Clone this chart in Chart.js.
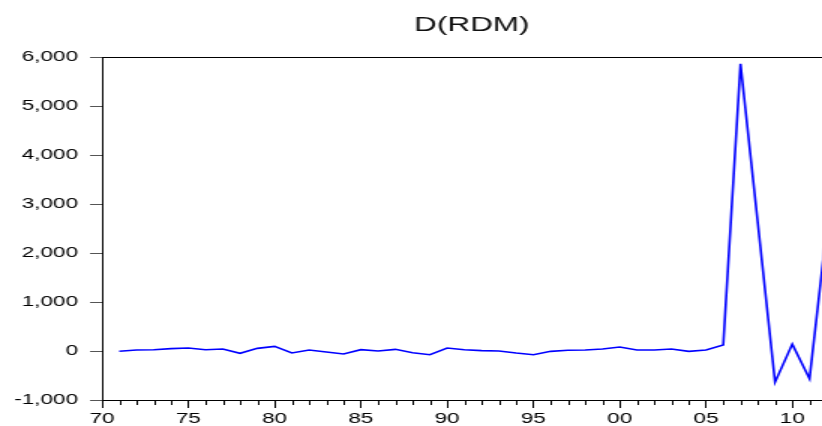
<!DOCTYPE html>
<html>
<head>
<meta charset="utf-8">
<title>D(RDM)</title>
<script src="https://cdn.jsdelivr.net/npm/chart.js@4/dist/chart.umd.min.js"></script>
<style>
  html, body { margin: 0; padding: 0; background: #fff; width: 822px; height: 426px; overflow: hidden; }
  /* the plot is drawn narrow and widened horizontally, giving the wide lettering */
  #wrap { position: absolute; left: 0; top: 0; width: 552px; height: 426px;
          transform: scaleX(1.5); transform-origin: 0 0; }
</style>
</head>
<body>
<div id="wrap"><canvas id="chart"></canvas></div>
<script>
// first difference of RDM, annual, 1971-2012
const years = [1971, 1972, 1973, 1974, 1975, 1976, 1977, 1978, 1979, 1980,
               1981, 1982, 1983, 1984, 1985, 1986, 1987, 1988, 1989, 1990,
               1991, 1992, 1993, 1994, 1995, 1996, 1997, 1998, 1999, 2000,
               2001, 2002, 2003, 2004, 2005, 2006, 2007, 2008, 2009, 2010,
               2011, 2012];
const dRdm = [-5, 20, 27, 48, 61, 27, 41, -48, 54, 95,
              -41, 20, -20, -61, 27, 0, 34, -34, -75, 61,
              27, 7, 0, -41, -75, -7, 14, 20, 41, 82,
              20, 20, 41, -7, 20, 125, 5860, 2620, -635, 140,
              -565, 2500];

const xMajorTicks = [1970, 1975, 1980, 1985, 1990, 1995, 2000, 2005, 2010];
const xMinorTicks = [1971, 1972, 1973, 1974, 1976, 1977, 1978, 1979, 1981, 1982, 1983, 1984,
                     1986, 1987, 1988, 1989, 1991, 1992, 1993, 1994, 1996, 1997, 1998, 1999,
                     2001, 2002, 2003, 2004, 2006, 2007, 2008, 2009, 2011];
const yTicks = [-1000, 0, 1000, 2000, 3000, 4000, 5000, 6000];
const xRange = [1970, 2012];
const yRange = [-1000, 6000];
const chartTitle = 'D(RDM)';

const FONT = '"Liberation Sans", Arial, Helvetica, sans-serif';

// top frame line, short yearly ticks and the centred heading
const framePlugin = {
  id: 'frame',
  afterDraw(chart) {
    const { ctx, chartArea, scales } = chart;
    ctx.save();
    ctx.strokeStyle = '#000';
    ctx.lineWidth = 1;
    ctx.beginPath();
    const ty = Math.round(chartArea.top) + 0.5;
    ctx.moveTo(chartArea.left, ty);
    ctx.lineTo(chartArea.right + 20, ty);
    ctx.stroke();

    const by = Math.round(chartArea.bottom);
    ctx.beginPath();
    xMinorTicks.forEach(v => {
      const px = Math.round(scales.x.getPixelForValue(v)) + 0.5;
      ctx.moveTo(px, by);
      ctx.lineTo(px, by + 5);
    });
    ctx.stroke();

    ctx.fillStyle = '#111';
    ctx.font = '21px ' + FONT;
    ctx.textAlign = 'center';
    ctx.textBaseline = 'alphabetic';
    ctx.fillText(chartTitle, (chartArea.left + chartArea.right) / 2 + 5, 31);
    ctx.restore();
  }
};

new Chart(document.getElementById('chart'), {
  type: 'line',
  data: {
    datasets: [{
      data: years.map((yr, i) => ({ x: yr, y: dRdm[i] })),
      borderColor: '#0000ff',
      borderWidth: 1.6,
      pointRadius: 0,
      tension: 0,
      fill: false
    }]
  },
  options: {
    responsive: true,
    maintainAspectRatio: false,
    animation: false,
    events: [],
    layout: { padding: { top: 57, left: 0, right: 0, bottom: 0 } },
    plugins: {
      legend: { display: false },
      tooltip: { enabled: false },
      title: { display: false }
    },
    scales: {
      x: {
        type: 'linear',
        min: xRange[0],
        max: xRange[1],
        afterFit(scale) { scale.height = 26; },
        afterBuildTicks(scale) { scale.ticks = xMajorTicks.map(v => ({ value: v })); },
        ticks: {
          autoSkip: false,
          maxRotation: 0,
          padding: 2,
          color: '#000',
          font: { family: FONT, size: 15 },
          callback: v => String(v % 100).padStart(2, '0')
        },
        grid: { drawOnChartArea: false, tickLength: 8, tickColor: '#000', tickWidth: 1 },
        border: { color: '#000', width: 1 }
      },
      y: {
        min: yRange[0],
        max: yRange[1],
        afterFit(scale) { scale.width = 68; },
        afterBuildTicks(scale) { scale.ticks = yTicks.map(v => ({ value: v })); },
        ticks: {
          padding: 8,
          color: '#000',
          font: { family: FONT, size: 15 },
          callback: v => v.toLocaleString('en-US')
        },
        grid: { drawOnChartArea: false, tickLength: 8, tickColor: '#555', tickWidth: 1 },
        border: { color: '#000', width: 1 }
      }
    }
  },
  plugins: [framePlugin]
});
</script>
</body>
</html>
